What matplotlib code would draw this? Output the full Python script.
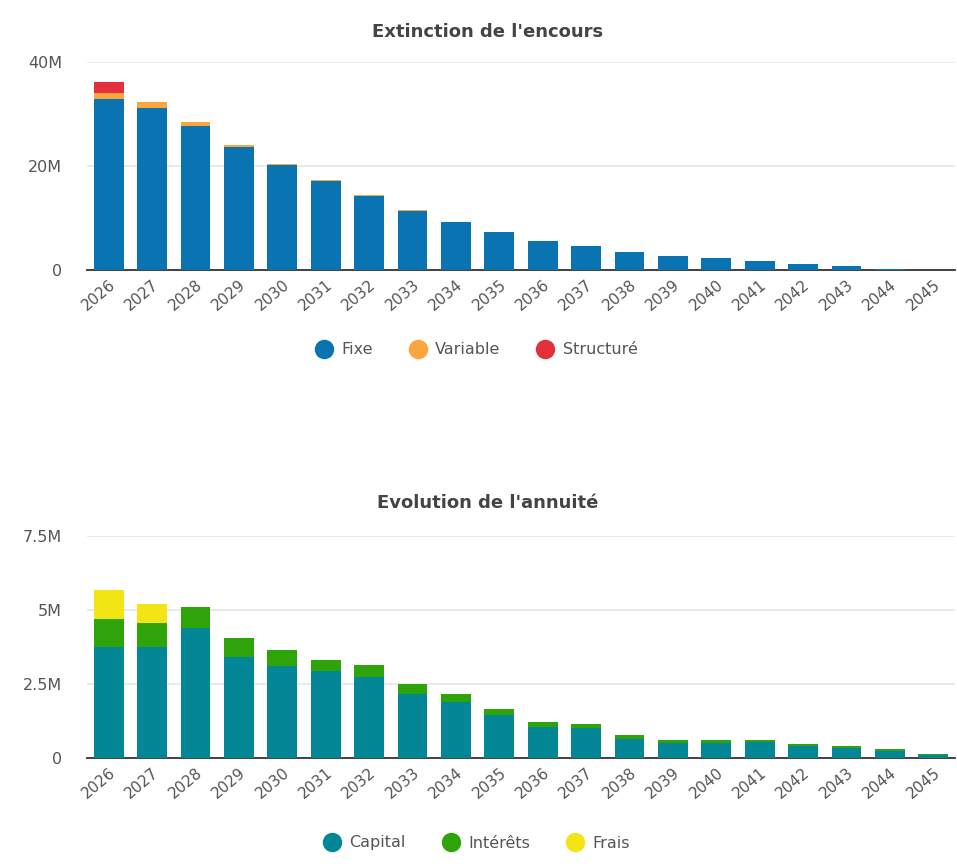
import matplotlib
matplotlib.use("Agg")
import matplotlib.pyplot as plt
from matplotlib.lines import Line2D
from matplotlib.ticker import FuncFormatter
import numpy as np

years = [str(y) for y in range(2026, 2046)]

# Extinction de l'encours (millions)
fixe = [32.8, 31.15, 27.6, 23.6, 20.2, 17.1, 14.3, 11.4, 9.23, 7.3,
        5.6, 4.7, 3.5, 2.75, 2.3, 1.67, 1.15, 0.7, 0.2, 0.03]
variable = [1.2, 1.15, 0.9, 0.4, 0.25, 0.2, 0.15, 0.15, 0.0, 0.0,
            0.0, 0.0, 0.0, 0.0, 0.0, 0.0, 0.0, 0.0, 0.0, 0.0]
structure = [2.1, 0.0, 0.0, 0.0, 0.0, 0.0, 0.0, 0.0, 0.0, 0.0,
             0.0, 0.0, 0.0, 0.0, 0.0, 0.0, 0.0, 0.0, 0.0, 0.0]

# Evolution de l'annuité (millions)
capital = [3.77, 3.77, 4.40, 3.42, 3.11, 2.93, 2.75, 2.18, 1.91, 1.46,
           1.07, 1.03, 0.66, 0.53, 0.53, 0.56, 0.41, 0.36, 0.26, 0.12]
interets = [0.94, 0.81, 0.71, 0.63, 0.54, 0.40, 0.40, 0.31, 0.27, 0.22,
            0.17, 0.12, 0.13, 0.09, 0.09, 0.06, 0.07, 0.07, 0.05, 0.01]
frais = [0.98, 0.62, 0.0, 0.0, 0.0, 0.0, 0.0, 0.0, 0.0, 0.0,
         0.0, 0.0, 0.0, 0.0, 0.0, 0.0, 0.0, 0.0, 0.0, 0.0]

top_labels = ["Fixe", "Variable", "Structuré"]
top_colors = ["#0a74b3", "#fba53f", "#e4303a"]
bot_labels = ["Capital", "Intérêts", "Frais"]
bot_colors = ["#038797", "#2ea40a", "#f3e514"]

plt.rcParams['font.family'] = ['DejaVu Sans']
TXT = "#555555"

W, H = 957, 868
fig = plt.figure(figsize=(W / 100, H / 100), dpi=100)
fig.patch.set_facecolor("white")


def ax_rect(x0, y_top, x1, y_bot):
    return [x0 / W, 1 - y_bot / H, (x1 - x0) / W, (y_bot - y_top) / H]


def style_axes(ax, ymax, ticks, fmt):
    ax.set_xlim(-0.5, len(years) - 0.5)
    ax.set_ylim(0, ymax)
    ax.set_yticks(ticks)
    ax.yaxis.set_major_formatter(FuncFormatter(fmt))
    ax.grid(axis="y", color="#e6e6e6", linewidth=1.2)
    ax.set_axisbelow(True)
    for s in ["top", "right", "left"]:
        ax.spines[s].set_visible(False)
    ax.spines["bottom"].set_color("#333333")
    ax.spines["bottom"].set_linewidth(1.3)
    ax.tick_params(axis="y", length=0, labelsize=11.5, labelcolor=TXT, pad=18)
    ax.tick_params(axis="x", length=0, labelsize=11, labelcolor=TXT, pad=5)
    ax.set_xticks(range(len(years)))
    ax.set_xticklabels(years, rotation=40, ha="right", rotation_mode="anchor")


def stack(ax, series, colors):
    bottom = np.zeros(len(years))
    for vals, c in zip(series, colors):
        v = np.array(vals)
        ax.bar(range(len(years)), v, bottom=bottom, width=0.69, color=c,
               edgecolor="none", zorder=3)
        bottom = bottom + v


def legend(fig, labels, colors, y):
    handles = [Line2D([0], [0], marker="o", linestyle="none", markersize=14,
                      markerfacecolor=c, markeredgecolor="none") for c in colors]
    fig.legend(handles, labels, loc="center", bbox_to_anchor=(476 / W, 1 - y / H),
               ncol=3, frameon=False, fontsize=11.5, labelcolor=TXT,
               handletextpad=0.5, columnspacing=2.2, handlelength=1.2)


def fmt_m(v, pos):
    return "0" if v == 0 else f"{v:g}M"


ax1 = fig.add_axes(ax_rect(87, 61.7, 955, 270))
stack(ax1, [fixe, variable, structure], top_colors)
style_axes(ax1, 40, [0, 20, 40], fmt_m)
fig.text(488 / W, 1 - 32 / H, "Extinction de l'encours", ha="center", va="center",
         fontsize=13, fontweight="bold", color="#444444")
legend(fig, top_labels, top_colors, 350)

ax2 = fig.add_axes(ax_rect(87, 536, 955, 758.3))
stack(ax2, [capital, interets, frais], bot_colors)
style_axes(ax2, 7.5, [0, 2.5, 5, 7.5], fmt_m)
fig.text(488 / W, 1 - 503 / H, "Evolution de l'annuité", ha="center", va="center",
         fontsize=13, fontweight="bold", color="#444444")
legend(fig, bot_labels, bot_colors, 843)

fig.savefig("out.png", dpi=100, facecolor="white")
